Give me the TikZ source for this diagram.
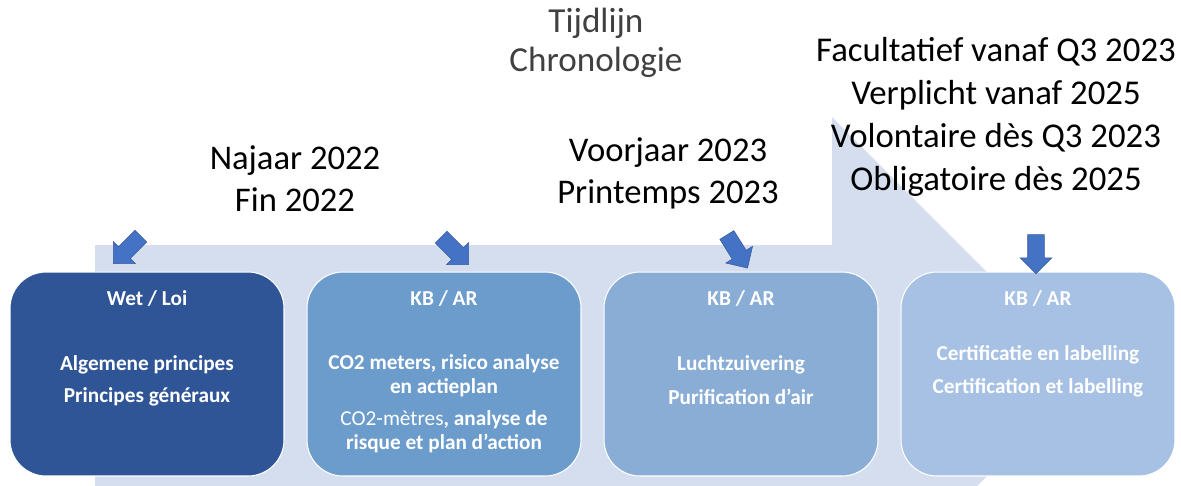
\documentclass[tikz,border=0pt]{standalone}
\usepackage{fontspec}
\setmainfont{Carlito}
\usetikzlibrary{shapes.arrows}
\definecolor{bgblue}{HTML}{D4DEEF}
\definecolor{boxa}{HTML}{2F5597}
\definecolor{boxb}{HTML}{6C9CCC}
\definecolor{boxc}{HTML}{8AADD6}
\definecolor{boxd}{HTML}{A6C1E4}
\definecolor{arrblue}{HTML}{4472C4}
\definecolor{titlegray}{HTML}{404040}
\tikzset{
  stagebox/.style={draw=white, line width=0.6pt, rounded corners=0.72cm, minimum width=5.48cm, minimum height=4.08cm, inner sep=0pt},
  boxtext/.style={text=white, font=\fontsize{12.1}{13.6}\selectfont\bfseries, align=center, inner sep=0pt},
  dateText/.style={font=\fontsize{19.7}{23.8}\selectfont, align=center, inner sep=0pt},
  bluearrow/.style={single arrow, fill=arrblue, draw=arrblue!80!black, line width=0.3pt, inner xsep=0pt, inner ysep=0.16cm,
    minimum height=0.78cm, single arrow head extend=0.15cm},
}
\begin{document}
\begin{tikzpicture}[x=0.02cm,y=-0.02cm]
\useasboundingbox (0,0) rectangle (1181,485);
% background bent arrow
\begin{scope}
\clip (0,0) rectangle (1181,485);
\fill[bgblue] (95,245) -- (832,245) -- (832,117) -- (1089,374) -- (832,631) -- (832,503) -- (95,503) -- cycle;
\end{scope}
% stage boxes
\node[stagebox, fill=boxa] (b1) at (147,374) {};
\node[stagebox, fill=boxb] (b2) at (444,374) {};
\node[stagebox, fill=boxc] (b3) at (741,374) {};
\node[stagebox, fill=boxd] (b4) at (1038,374) {};
% box texts
\node[boxtext] (h1) at (147,299) {Wet / Loi};
\node[boxtext] (t1a) at (147,365) {Algemene principes};
\node[boxtext] (t1b) at (147,397) {Principes généraux};
\node[boxtext] (h2) at (444,299) {KB / AR};
\node[boxtext] (t2a) at (444,376) {CO2 meters, risico analyse\\en actieplan};
\node[boxtext] (t2b) at (444,432) {{\mdseries CO2-mètres}, analyse de\\risque et plan d’action};
\node[boxtext] (h3) at (741,299) {KB / AR};
\node[boxtext] (t3a) at (741,365) {Luchtzuivering};
\node[boxtext] (t3b) at (741,397) {Purification d’air};
\node[boxtext] (h4) at (1038,299) {KB / AR};
\node[boxtext] (t4a) at (1038,355) {Certificatie en labelling};
\node[boxtext] (t4b) at (1038,388) {Certification et labelling};
% arrows
\node[bluearrow, rotate=-135] (a1) at (130,247) {};
\node[bluearrow, rotate=-45] (a2) at (452,248) {};
\node[bluearrow, rotate=-58] (a3) at (735,248) {};
\node[bluearrow, rotate=-90] (a4) at (1036,250) {};
% headings
\node[font=\fontsize{20}{22.5}\selectfont, text=titlegray, align=center, inner sep=0pt] (title) at (596,43) {Tijdlijn\\Chronologie};
\node[dateText] (d1) at (295,179) {Najaar 2022\\Fin 2022};
\node[dateText] (d2) at (668,173) {Voorjaar 2023\\Printemps 2023};
\node[font=\fontsize{19.8}{24.6}\selectfont, align=center, inner sep=0pt] (d4) at (996,117) {Facultatief vanaf Q3 2023\\Verplicht vanaf 2025\\Volontaire dès Q3 2023\\Obligatoire dès 2025};
\end{tikzpicture}
\end{document}
